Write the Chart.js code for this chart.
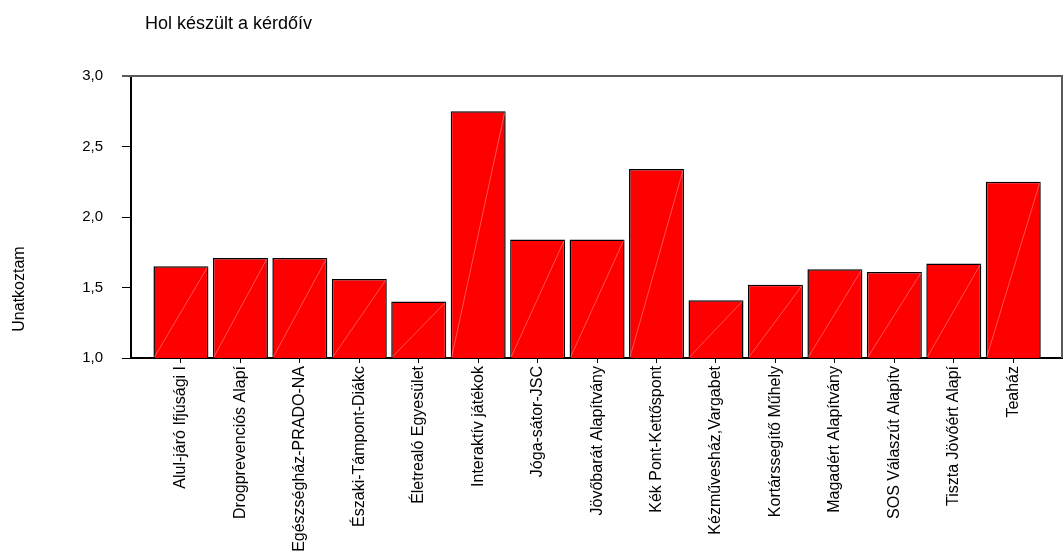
<!DOCTYPE html>
<html lang="hu">
<head>
    <meta charset="UTF-8">
    <title>Hol készült a kérdőív</title>
    <style>
        body {
            margin: 0;
            background-color: #ffffff;
        }
        .caixa {
            position: relative;
            width: 1064px;
            height: 556px;
        }
    </style>
    <script src="https://cdn.jsdelivr.net/npm/chart.js"></script>
</head>
<body>
    <div class="caixa">
        <canvas id="grafico" width="1064" height="556"></canvas>
    </div>
    <script>
        // adatok
        const cimek = [
            'Alul-járó Ifjúsági I', 'Drogprevenciós Alapí', 'Egészségház-PRADO-NA',
            'Északi-Támpont-Diákc', 'Életrealó Egyesület', 'Interaktív játékok',
            'Jóga-sátor-JSC', 'Jövőbarát Alapítvány', 'Kék Pont-Kettőspont',
            'Kézművesház,Vargabet', 'Kortárssegítő Műhely', 'Magadért Alapítvány',
            'SOS Válaszút Alapítv', 'Tiszta Jövőért Alapí', 'Teaház'
        ];
        const ertekek = [1.65, 1.71, 1.71, 1.56, 1.40, 2.75, 1.84, 1.84, 2.34, 1.41, 1.52, 1.63, 1.61, 1.67, 2.25];
        const yTickek = [1.0, 1.5, 2.0, 2.5, 3.0];
        const cim = 'Hol készült a kérdőív';
        const yCim = 'Unatkoztam';

        const betu = 'Arial, "Liberation Sans", sans-serif';

        // keret, cimek, atlos vonal a hasabokban
        const rajzolo = {
            id: 'rajzolo',
            afterDatasetsDraw(chart) {
                const ctx = chart.ctx;
                const a = chart.chartArea;
                const meta = chart.getDatasetMeta(0);
                ctx.save();
                ctx.strokeStyle = 'rgba(255,165,165,1)';
                ctx.lineWidth = 0.5;
                meta.data.forEach(el => {
                    const p = el.getProps(['x', 'y', 'width'], true);
                    ctx.beginPath();
                    ctx.moveTo(p.x - p.width / 2 + 1, a.bottom - 1);
                    ctx.lineTo(p.x + p.width / 2 - 1, p.y + 1);
                    ctx.stroke();
                });
                ctx.restore();
            },
            afterDraw(chart) {
                const ctx = chart.ctx;
                const a = chart.chartArea;
                ctx.save();
                ctx.strokeStyle = '#5a5a5a';
                ctx.lineWidth = 2;
                ctx.beginPath();
                ctx.moveTo(a.left - 9, a.top);
                ctx.lineTo(a.right, a.top);
                ctx.lineTo(a.right, a.bottom);
                ctx.stroke();

                ctx.fillStyle = '#000';
                ctx.font = '18px ' + betu;
                ctx.textBaseline = 'alphabetic';
                ctx.fillText(cim, 145, 29);

                ctx.font = '16px ' + betu;
                ctx.translate(24, 289);
                ctx.rotate(-Math.PI / 2);
                ctx.textAlign = 'center';
                ctx.fillText(yCim, 0, 0);
                ctx.restore();
            }
        };

        new Chart(document.getElementById('grafico'), {
            type: 'bar',
            data: {
                datasets: [{
                    data: ertekek.map((v, i) => ({ x: i, y: v })),
                    backgroundColor: '#ff0000',
                    borderColor: '#000000',
                    borderWidth: 1.5,
                    borderSkipped: false,
                    barPercentage: 0.925,
                    categoryPercentage: 1
                }]
            },
            options: {
                responsive: false,
                animation: false,
                layout: { padding: { top: 76, right: 2, left: 0, bottom: 0 } },
                plugins: {
                    legend: { display: false },
                    tooltip: { enabled: false }
                },
                scales: {
                    x: {
                        type: 'linear',
                        offset: false,
                        min: -0.84,
                        max: 14.82,
                        afterBuildTicks: s => { s.ticks = cimek.map((c, i) => ({ value: i })); },
                        afterFit: s => { s.height = 556 - 358; },
                        ticks: {
                            callback: v => cimek[v],
                            autoSkip: false,
                            minRotation: 90,
                            maxRotation: 90,
                            padding: 3,
                            color: '#000',
                            font: { family: betu, size: 16 }
                        },
                        grid: { offset: false, drawOnChartArea: false, tickLength: 5, color: '#000', lineWidth: 1 },
                        border: { color: '#000', width: 2 }
                    },
                    y: {
                        min: 1,
                        max: 3,
                        afterBuildTicks: s => { s.ticks = yTickek.map(v => ({ value: v })); },
                        afterFit: s => { s.width = 131; },
                        ticks: {
                            callback: v => v.toFixed(1).replace('.', ','),
                            padding: 19,
                            color: '#000',
                            font: { family: betu, size: 15 }
                        },
                        grid: { drawOnChartArea: false, tickLength: 9, color: '#000', lineWidth: 1 },
                        border: { color: '#000', width: 2 }
                    }
                }
            },
            plugins: [rajzolo]
        });
    </script>
</body>
</html>
